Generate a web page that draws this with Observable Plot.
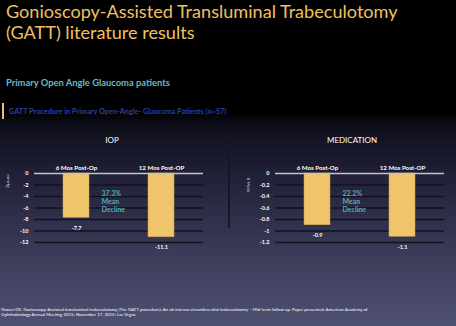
<!DOCTYPE html>
<html>
<head>
<meta charset="utf-8">
<script src="https://cdn.jsdelivr.net/npm/d3@7"></script>
<script src="https://cdn.jsdelivr.net/npm/@observablehq/plot@0.6"></script>
<style>
  html, body { margin: 0; padding: 0; }
  body {
    width: 456px; height: 326px; overflow: hidden; position: relative;
    font-family: Lato, "Open Sans", sans-serif;
    background: linear-gradient(to bottom, #000 0px, #000 112px, #0e0e1a 125px, #22223a 180px, #3a3a58 250px, #4e5072 326px);
  }
  .abs { position: absolute; white-space: nowrap; }
  #title { left: 6px; top: 1px; color: #f0c060; font-size: 18.1px; line-height: 21px; }
  #sub { left: 6px; top: 77px; color: #6ab8cc; font-size: 9.4px; font-weight: bold; }
  #band { left: 2px; top: 103px; width: 2px; height: 16px; background: #f0c060; }
  #bandtxt { left: 9px; top: 107px; color: #2a40a4; font-size: 7.3px; font-weight: bold; }
  #divider { left: 228px; top: 135px; width: 1.5px; height: 93px; background: #161624; }
  .ptitle { color: #fff; font-size: 8px; transform: translateX(-50%); }
  .ylab { color: #ddd; font-size: 4.5px; transform: translate(-50%, -50%) rotate(90deg); }
  #foot { left: 1px; top: 307px; color: #fff; font-size: 4.4px; line-height: 5.2px; }
  .plot { position: absolute; top: 130px; }
</style>
</head>
<body>
<div id="title" class="abs">Gonioscopy-Assisted Transluminal Trabeculotomy<br>(GATT) literature results</div>
<div id="sub" class="abs">Primary Open Angle Glaucoma patients</div>
<div id="band" class="abs"></div>
<div id="bandtxt" class="abs">GATT Procedure in Primary Open-Angle- Glaucoma Patients (n=57)</div>
<div id="divider" class="abs"></div>
<div class="abs ptitle" style="left:112px; top:135px;">IOP</div>
<div class="abs ptitle" style="left:352px; top:135px;">MEDICATION</div>
<div class="abs ylab" style="left:8px; top:181px;">mmHg</div>
<div class="abs ylab" style="left:248px; top:185px;"># Meds</div>
<div id="foot" class="abs">Grover DS. Gonioscopy-Assisted transluminal trabeculotomy (The GATT procedure): An ab interno circumferential trabeculotomy – Mid-term follow up. Paper presented: American Academy of<br>Ophthalmology Annual Meeting 2015; November 17, 2015; Las Vegas.</div>
<div id="left" class="plot" style="left:0px;"></div>
<div id="right" class="plot" style="left:228px;"></div>
<script>
const categories = ["6 Mos Post-Op", "12 Mos Post-OP"];
const iopValues = [-7.7, -11.1];
const iopLabels = ["-7.7", "-11.1"];
const iopTicks = [0, -2, -4, -6, -8, -10, -12];
const iopNote = "37.3%\nMean\nDecline";
const medValues = [-0.9, -1.1];
const medLabels = ["-0.9", "-1.1"];
const medTicks = [0, -0.2, -0.4, -0.6, -0.8, -1, -1.2];
const medNote = "22.2%\nMean\nDecline";

const barColor = "#efc46a";
const gridColor = "#12121e";
const zeroColor = "#c4c4cc";
const noteColor = "#5aaab4";

function panel({values, labels, ticks, note, noteY, marginLeft, marginRight}) {
  const data = categories.map((c, i) => ({cat: c, v: values[i], label: labels[i]}));
  const lo = ticks[ticks.length - 1];
  return Plot.plot({
    width: 228,
    height: 125,
    marginTop: 43,
    marginBottom: 13,
    marginLeft,
    marginRight,
    style: {background: "transparent", color: "#fff", fontFamily: "Lato, 'Open Sans', sans-serif"},
    x: {domain: categories, paddingInner: 0.694, paddingOuter: 0.341, axis: null},
    y: {domain: [lo, 0], axis: null},
    marks: [
      Plot.ruleY(ticks.filter(t => t !== 0), {stroke: gridColor, strokeWidth: 1.6}),
      Plot.barY(data, {x: "cat", y: "v", fill: barColor, stroke: "#c9a050", strokeWidth: 0.5}),
      Plot.ruleY([0], {stroke: zeroColor, strokeWidth: 1.6}),
      Plot.axisY({ticks, label: null, tickSize: 0, tickPadding: 6, tickFormat: d => String(d), fontSize: 5.5, fontWeight: "bold", fill: "#fff"}),
      Plot.axisX({anchor: "top", label: null, tickSize: 0, tickPadding: 4, fontSize: 6.2, fontWeight: "bold", fill: "#fff"}),
      Plot.text(data, {x: "cat", y: "v", text: "label", dy: 10, fill: "#fff", fontSize: 5.5, fontWeight: "bold"}),
      Plot.text([note], {x: [categories[0]], y: [noteY], dx: 25, text: d => d, textAnchor: "start", lineAnchor: "middle", lineHeight: 1.2, fill: noteColor, fontSize: 7, fontWeight: "bold"})
    ]
  });
}

document.getElementById("left").append(panel({
  values: iopValues, labels: iopLabels, ticks: iopTicks, note: iopNote, noteY: -4.83, marginLeft: 34, marginRight: 25
}));
document.getElementById("right").append(panel({
  values: medValues, labels: medLabels, ticks: medTicks, note: medNote, noteY: -0.484, marginLeft: 47, marginRight: 12
}));
</script>
</body>
</html>
